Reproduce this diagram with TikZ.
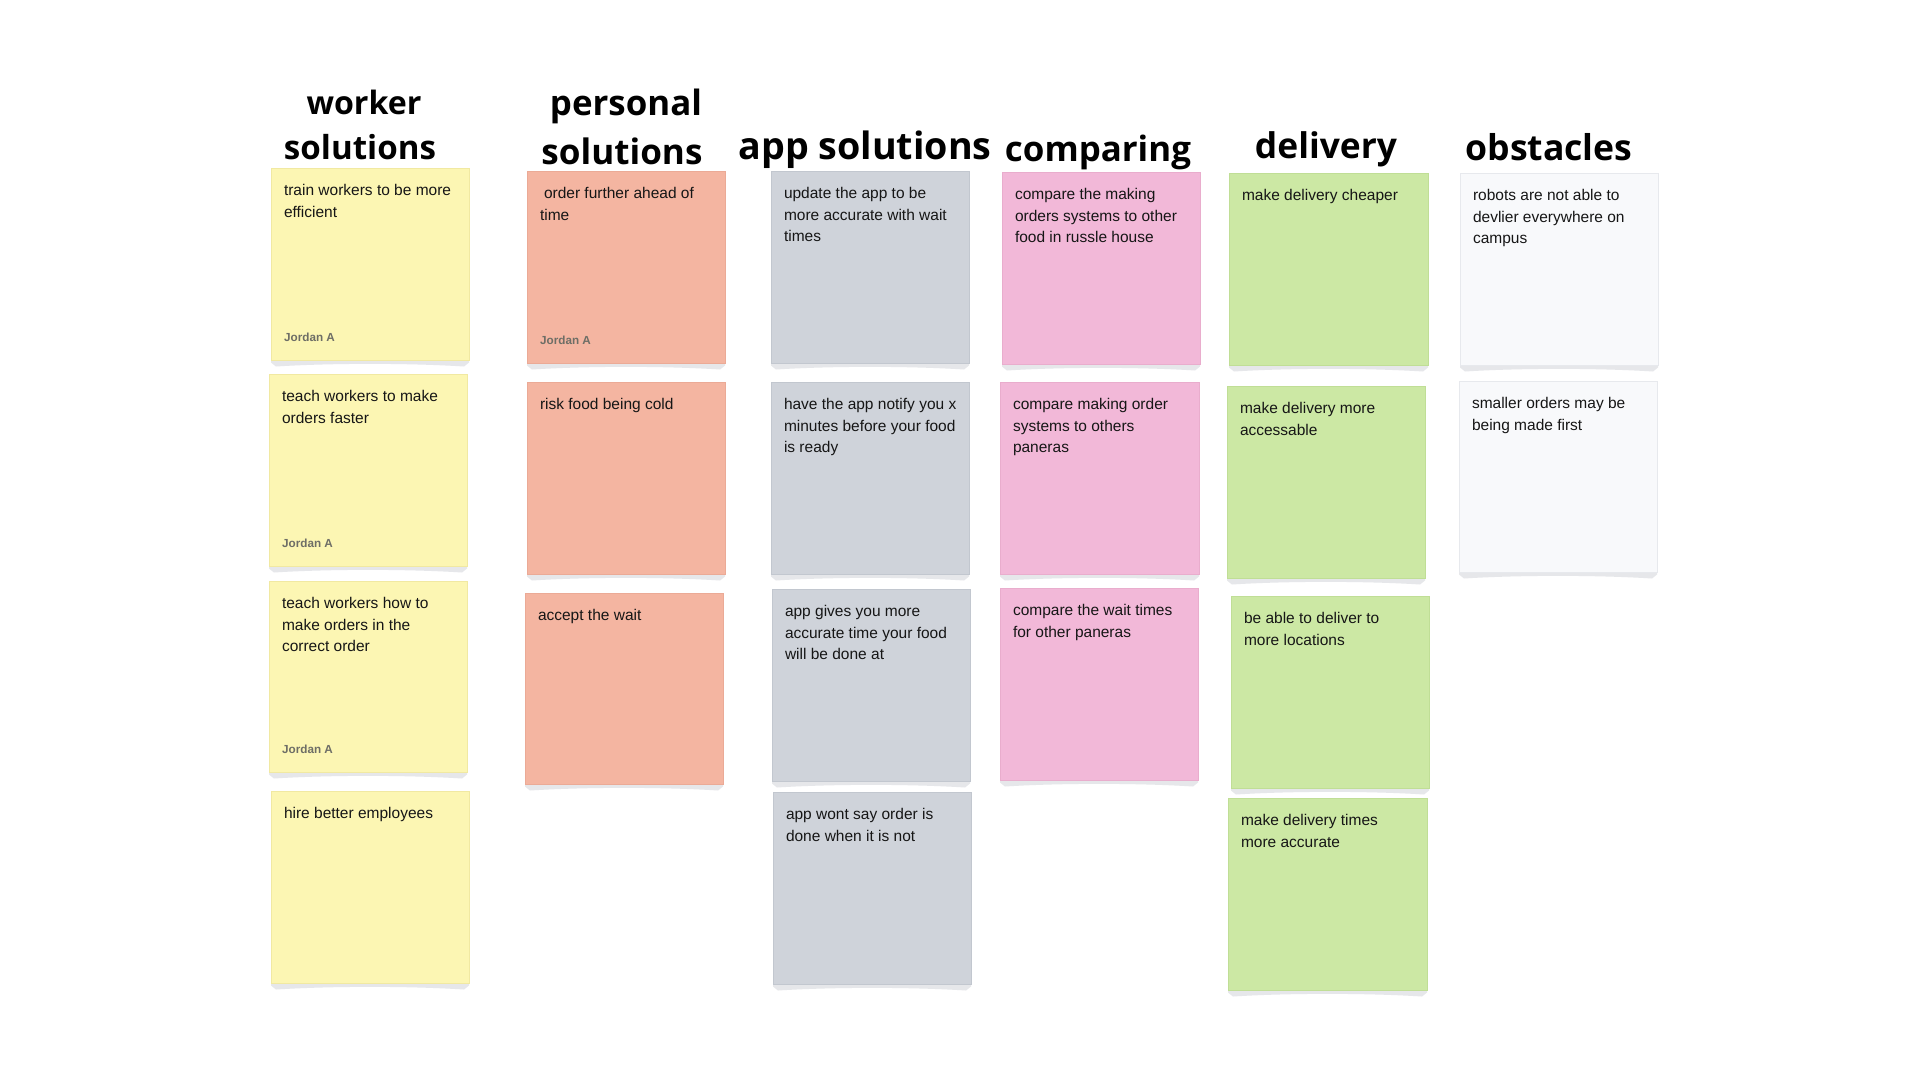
\documentclass[tikz,border=0pt]{standalone}
\usepackage{fontspec}
\usepackage{graphicx}
\setmainfont{Liberation Sans}
\newfontfamily\headfont{Open Sans}

\definecolor{inkc}{HTML}{161616}
\definecolor{authorc}{HTML}{6E6E66}
\definecolor{shadowc}{HTML}{E6E7EA}
\definecolor{yellowN}{HTML}{FCF6B3}
\definecolor{yellowB}{HTML}{F1E9A2}
\definecolor{salmonN}{HTML}{F4B5A1}
\definecolor{salmonB}{HTML}{EBAA96}
\definecolor{grayN}{HTML}{CFD3DA}
\definecolor{grayB}{HTML}{C2C7CF}
\definecolor{pinkN}{HTML}{F2B8D8}
\definecolor{pinkB}{HTML}{E9ADCD}
\definecolor{greenN}{HTML}{CCE8A4}
\definecolor{greenB}{HTML}{C0DE96}
\definecolor{whiteN}{HTML}{F8F9FB}
\definecolor{whiteB}{HTML}{E7E9ED}

\tikzset{
  notes shadow/.style={fill=shadowc},
  notebox/.style={rectangle, anchor=north west, inner sep=0pt, outer sep=0pt, line width=0.7pt},
  notetext/.style={anchor=north west, inner sep=0pt, outer sep=0pt, align=left,
    text=inkc, font=\fontsize{15.5}{21.3}\selectfont},
  author/.style={anchor=base west, inner sep=0pt, text=authorc,
    font=\fontsize{11.7}{13}\selectfont\bfseries},
  head/.style={anchor=base, inner sep=0pt, font=\headfont\bfseries, text=black},
}

% #1 name, #2 left, #3 top, #4 right, #5 bottom, #6 fill, #7 edge, #8 text
\newcommand\stickynote[8]{%
  \fill[notes shadow] (#2,#5) -- (#4,#5) -- (#4,#5+2.5) -- (#4-5,#5+6.5)
     .. controls (#4-60,#5+3) and (#2+60,#5+3) .. (#2+5,#5+6.5) -- (#2,#5+2.5) -- cycle;
  \node[notebox, fill=#6, draw=#7, minimum width={(#4-#2)*1pt},
        minimum height={(#5-#3)*1pt}] (#1) at (#2,#3) {};
  \node[notetext] (#1-text) at ([xshift=13pt,yshift=-13pt]#1.north west) {\strut#8};
}

\begin{document}
\begin{tikzpicture}[x=1pt,y=-1pt]
\useasboundingbox (0,0) rectangle (1920,1080);
\fill[white] (0,0) rectangle (1920,1080);

% column headings
\node[head] (hw1) at (364,114) {\resizebox{115pt}{!}{worker}};
\node[head] (hw2) at (360,159) {\resizebox{152pt}{!}{solutions}};
\node[head] (hp1) at (626,115.5) {\resizebox{152pt}{!}{personal}};
\node[head] (hp2) at (622,164) {\resizebox{161pt}{!}{solutions}};
\node[head] (ha) at (865,159.3) {\resizebox{253pt}{!}{app solutions}};
\node[head] (hc) at (1098,161.5) {\resizebox{186pt}{!}{comparing}};
\node[head] (hd) at (1326,158.7) {\resizebox{142pt}{!}{delivery}};
\node[head] (ho) at (1549,160.7) {\resizebox{167pt}{!}{obstacles}};

% worker solutions
\stickynote{w1}{271}{168}{469}{360}{yellowN}{yellowB}{train workers to be more\\efficient}
\stickynote{w2}{269}{374}{467}{566}{yellowN}{yellowB}{teach workers to make\\orders faster}
\stickynote{w3}{269}{581}{467}{772}{yellowN}{yellowB}{teach workers how to\\make orders in the\\correct order}
\stickynote{w4}{271}{791}{469}{983}{yellowN}{yellowB}{hire better employees}
\node[author] (w1-author) at ([xshift=13pt,yshift=18.3pt]w1.south west) {Jordan A};
\node[author] (w2-author) at ([xshift=13pt,yshift=18.3pt]w2.south west) {Jordan A};
\node[author] (w3-author) at ([xshift=13pt,yshift=18.3pt]w3.south west) {Jordan A};

% personal solutions
\stickynote{p1}{527}{171}{725}{363}{salmonN}{salmonB}{\hspace{4pt}order further ahead of\\time}
\stickynote{p2}{527}{382}{725}{574}{salmonN}{salmonB}{risk food being cold}
\stickynote{p3}{525}{593}{723}{784}{salmonN}{salmonB}{accept the wait}
\node[author] (p1-author) at ([xshift=13pt,yshift=18.3pt]p1.south west) {Jordan A};

% app solutions
\stickynote{a1}{771}{171}{969}{363}{grayN}{grayB}{update the app to be\\more accurate with wait\\times}
\stickynote{a2}{771}{382}{969}{574}{grayN}{grayB}{have the app notify you x\\minutes before your food\\is ready}
\stickynote{a3}{772}{589}{970}{781}{grayN}{grayB}{app gives you more\\accurate time your food\\will be done at}
\stickynote{a4}{773}{792}{971}{984}{grayN}{grayB}{app wont say order is\\done when it is not}

% comparing
\stickynote{c1}{1002}{172}{1200}{364}{pinkN}{pinkB}{compare the making\\orders systems to other\\food in russle house}
\stickynote{c2}{1000}{382}{1199}{574}{pinkN}{pinkB}{compare making order\\systems to others\\paneras}
\stickynote{c3}{1000}{588}{1198}{780}{pinkN}{pinkB}{compare the wait times\\for other paneras}

% delivery
\stickynote{d1}{1229}{173}{1428}{365}{greenN}{greenB}{make delivery cheaper}
\stickynote{d2}{1227}{386}{1425}{578}{greenN}{greenB}{make delivery more\\accessable}
\stickynote{d3}{1231}{596}{1429}{788}{greenN}{greenB}{be able to deliver to\\more locations}
\stickynote{d4}{1228}{798}{1427}{990}{greenN}{greenB}{make delivery times\\more accurate}

% obstacles
\stickynote{o1}{1460}{173}{1658}{365}{whiteN}{whiteB}{robots are not able to\\devlier everywhere on\\campus}
\stickynote{o2}{1459}{381}{1657}{572}{whiteN}{whiteB}{smaller orders may be\\being made first}
\end{tikzpicture}
\end{document}
